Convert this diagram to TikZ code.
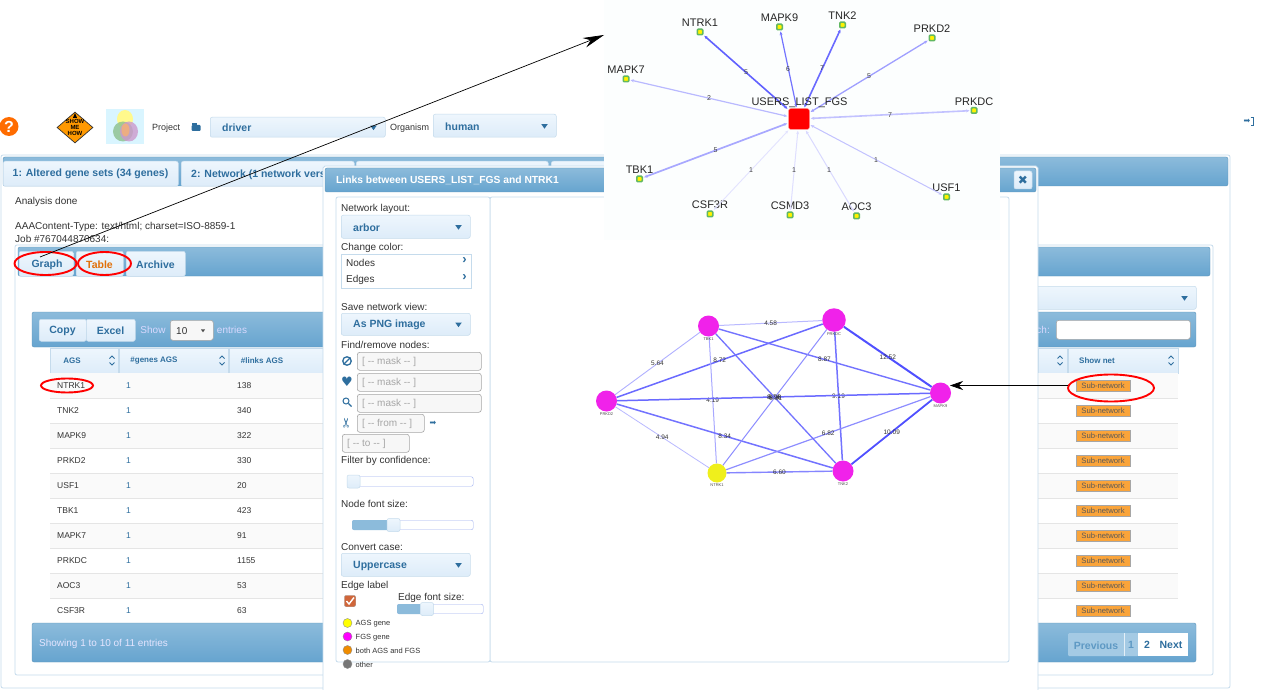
\documentclass[tikz,border=0pt]{standalone}
\usepackage{fontspec}
\setmainfont{Liberation Sans}
\newfontfamily\iconfont{DejaVu Sans}
\usetikzlibrary{arrows.meta,calc,positioning,matrix,shapes.geometric}
\definecolor{barTop}{HTML}{8CBBDB}
\definecolor{barBot}{HTML}{66A4CF}
\definecolor{widTop}{HTML}{EEF6FD}
\definecolor{widBot}{HTML}{DDECF9}
\definecolor{edgeBox}{HTML}{C5DBEC}
\definecolor{blueText}{HTML}{2E6E9E}
\definecolor{bodyText}{HTML}{333333}
\definecolor{orangeTab}{HTML}{E17009}
\definecolor{hotPink}{HTML}{F022EA}
\definecolor{netYellow}{HTML}{EFEF1C}
\definecolor{linkBlue}{HTML}{5050FF}
\definecolor{btnOrange}{HTML}{FAA43A}
\definecolor{overlayWhite}{HTML}{FCFEFE}
\definecolor{pageFill}{HTML}{A4CAE4}
\definecolor{pageText}{HTML}{5E99C4}
\definecolor{legYellow}{HTML}{FFFF00}
\definecolor{legPink}{HTML}{FF00FF}
\definecolor{legOrange}{HTML}{F08C00}
\definecolor{legGray}{HTML}{777777}
\definecolor{checkFill}{HTML}{D0663A}
\definecolor{geneGreen}{HTML}{62B862}
\newcommand{\fsz}[1]{\fontsize{#1}{#1}\selectfont}
% combo box: name, left, top, right, bottom, text
\newcommand{\combobox}[6]{
  \node[widget, minimum width=#4pt-#2pt, minimum height=#5pt-#3pt, anchor=north west] (#1) at (#2,#3) {};
  \node[bluebold, anchor=west] (#1-text) at ($(#1.west)+(12,0)$) {#6};
  \node[dropmark] (#1-mark) at ($(#1.east)+(-12,0)$) {};
}
\newcommand{\maskfield}[6]{
  \node[maskbox, minimum width=#4pt-#2pt, minimum height=#5pt-#3pt, anchor=north west] (#1) at (#2,#3) {};
  \node[anchor=west, inner sep=0, yshift=-.5pt, font=\fsz{10}, text=gray!70] (#1-text) at ($(#1.west)+(5,0)$) {#6};
}
\newcommand{\sortmark}[2]{
  \path[draw, blueText, line width=.8pt] (#1-2.5,#2-2) -- (#1,#2-4.5) -- (#1+2.5,#2-2);
  \path[draw, blueText, line width=.8pt] (#1-2.5,#2+2) -- (#1,#2+4.5) -- (#1+2.5,#2+2);
}
\begin{document}
\begin{tikzpicture}[
    x=1pt, y=-1pt,
    every node/.style={text=bodyText},
    panel/.style={draw=edgeBox, fill=white, rounded corners=2pt, line width=.8pt},
    bar/.style={draw=barBot!90!black, top color=barTop, bottom color=barBot, rounded corners=2pt, line width=.4pt},
    widget/.style={draw=edgeBox, top color=widTop, bottom color=widBot, rounded corners=2pt, inner sep=0, line width=.5pt},
    tabbox/.style={widget, anchor=north west, inner sep=0, minimum height=25pt},
    bluebold/.style={inner sep=0, yshift=-.8pt, font=\fsz{10.5}\bfseries, text=blueText},
    lbl/.style={anchor=west, inner sep=0, yshift=-.8pt, font=\fsz{10}, text=bodyText},
    dropmark/.style={isosceles triangle, shape border rotate=-90, isosceles triangle apex angle=70, fill=blueText, inner sep=0, minimum height=3.5pt, minimum width=6.5pt},
    maskbox/.style={draw=black!35, fill=white!97!black, rounded corners=2.5pt, inner sep=0, line width=.6pt},
    redring/.style={ellipse, draw=red, line width=1.9pt, inner sep=0},
    gene/.style={draw=geneGreen, fill=yellow, line width=1.5pt, rounded corners=1pt, inner sep=0, minimum size=5.5pt},
    genelbl/.style={inner sep=0, font=\fsz{11}, text=black!85},
    weight/.style={inner sep=0, font=\fsz{7}, text=black!75},
    netdot/.style={circle, inner sep=0, fill=hotPink},
    tinylbl/.style={inner sep=0, font=\fsz{4}, text=black!70},
    subbtn/.style={fill=btnOrange, draw=black!35, line width=.5pt, minimum width=54pt, minimum height=10.5pt, inner sep=0, font=\fsz{7.7}, text=black!65},
    dbtable/.style={
        matrix of nodes,
        row sep=0pt,
        column sep=0pt,
        inner sep=0pt,
        nodes={rectangle, font=\fsz{8.5}, text=bodyText, minimum height=25pt, text height=6pt, text depth=2pt, align=left, inner ysep=0},
        column 1/.style={nodes={text width=55pt, inner xsep=7pt}},
        column 2/.style={nodes={text width=97pt, inner xsep=7pt, text=blueText}},
        column 3/.style={nodes={text width=90pt, inner xsep=7pt}}}
]
\useasboundingbox (0,0) rectangle (1262,690);
\fill[white] (0,0) rectangle (1262,690);

%% top strip
\node[circle, fill=orange!85!red, inner sep=0, minimum size=19pt, text=white, font=\fsz{16}\bfseries] (helpmark) at (9,126.500) {?};
\node[diamond, draw=black!80, fill=orange!80!yellow, inner sep=0, minimum width=36pt, minimum height=31pt, line width=.7pt] (showsign) at (75,127.500) {};
\node[isosceles triangle, shape border rotate=90, fill=black, inner sep=0, minimum height=3pt, minimum width=4pt] (showtop) at (75,116.500) {};
\node[inner sep=0, font=\fsz{6}\bfseries, align=center, text=black] (showtext) at (75,127.500) {SHOW\\[-.3pt]ME\\[-.3pt]HOW};
\node[rectangle, fill=blue!25!cyan!15, inner sep=0, minimum width=38pt, minimum height=35pt] (vennback) at (125,126.500) {};
\node[ellipse, fill=yellow!45, inner sep=0, minimum width=16pt, minimum height=18pt] (vennA) at (125,119) {};
\node[ellipse, fill=green!45!black!45, opacity=.8, inner sep=0, minimum width=20pt, minimum height=20pt] (vennB) at (123,131.500) {};
\node[ellipse, fill=violet!40, opacity=.8, inner sep=0, minimum width=18pt, minimum height=20pt] (vennC) at (129,131.500) {};
\node[ellipse, fill=orange!60, opacity=.7, inner sep=0, minimum width=8pt, minimum height=13pt] (vennD) at (125.500,130) {};
\node[lbl, font=\fsz{9}] (projectlbl) at (152,127) {Project};
\node[inner sep=0, fill=blueText, minimum width=9pt, minimum height=6pt, rounded corners=1pt] (folderico) at (196,128) {};
\node[inner sep=0, fill=blueText, minimum width=5pt, minimum height=2pt, anchor=south west] (foldertab) at (folderico.north west) {};
\combobox{projectbox}{210}{117}{385}{137}{driver}
\node[lbl, font=\fsz{9}] (organismlbl) at (390,127.500) {Organism};
\combobox{organismbox}{433}{114}{556}{137}{human}
\node[inner sep=0, font=\iconfont\fsz{8}, text=blueText] (signinico) at (1247,121) {➡};
\coordinate (signa) at (1250.500,117);
\coordinate (signb) at (1253,117);
\coordinate (signc) at (1253,125);
\coordinate (signd) at (1250.500,125);
\path[draw=blueText, line width=.9pt] (signa) -- (signb) -- (signc) -- (signd);

%% main panel
\path[panel] (1,155) rectangle (1230,688);
\path[bar] (3,157) rectangle (1228,186);
\node[tabbox, minimum width=175pt] (tabone) at (3,161) {};
\node[bluebold] (tabonetext) at (90.500,173.500) {1: Altered gene sets (34 genes)};
\node[tabbox, minimum width=173pt] (tabtwo) at (181,161) {};
\node[bluebold, anchor=west] (tabtwotext) at (191,173.500) {2: Network (1 network vers};
\node[tabbox, minimum width=192pt] (tabthree) at (356,161) {};
\node[tabbox, minimum width=100pt] (tabfour) at (551,161) {};
\node[lbl] (statuslbl) at (15,201.500) {Analysis done};
\node[lbl] (typelbl) at (15,226.500) {AAAContent-Type: text/html; charset=ISO-8859-1};
\node[lbl] (joblbl) at (15,238.500) {Job \#767044870634:};

%% inner panel, tabs
\path[panel] (15,245) rectangle (1213,675);
\path[bar] (18,247) rectangle (1210,276);
\node[tabbox, minimum width=54pt] (tabgraph) at (19,251) {};
\node[bluebold] at (47,263.500) (graphtext) {Graph};
\node[tabbox, minimum width=47pt] (tabtable) at (76,251) {};
\node[bluebold, text=orangeTab] at (99.500,263.500) (tabletext) {Table};
\node[tabbox, minimum width=59pt] (tabarchive) at (126,251) {};
\node[bluebold] at (155.500,263.500) (archivetext) {Archive};
\combobox{viewbox}{420}{286}{1196}{309}{}

%% table
\path[bar] (32,312) rectangle (1196,347);
\node[widget, minimum width=47pt, minimum height=22pt, anchor=north west] (copybtn) at (39,319) {};
\node[bluebold] (copytext) at (62.500,330) {Copy};
\node[widget, minimum width=49pt, minimum height=22pt, anchor=north west] (excelbtn) at (86,319) {};
\node[bluebold] (exceltext) at (110.500,330) {Excel};
\node[inner sep=0, font=\fsz{10}, text=white!85!blue] (showlbl) at (153,329.500) {Show};
\node[maskbox, minimum width=43pt, minimum height=20pt, anchor=north west] (lenbox) at (170,320) {};
\node[lbl, font=\fsz{10}] (lentext) at (176,330) {10};
\node[dropmark, minimum height=2.500pt, minimum width=4pt, fill=black!70] (lenmark) at (203,330.500) {};
\node[inner sep=0, font=\fsz{10}, text=white!85!blue] (entrieslbl) at (232,329.500) {entries};
\node[inner sep=0, font=\fsz{10}, text=white!85!blue, anchor=east] (searchlbl) at (1050,329.500) {ch:};
\node[maskbox, fill=white, minimum width=134pt, minimum height=19pt, anchor=north west] (searchbox) at (1056,320) {};
\foreach \hname/\hleft/\hwide/\htext/\htx in {
    hags/50/68/AGS/72,
    hgenes/119/109/\#genes AGS/154,
    hlinks/229/120/\#links AGS/262,
    hlast/1038/29//1050,
    hshow/1068/110/Show net/1097}{
  \node[widget, rounded corners=0, minimum width=\hwide pt, minimum height=25pt, anchor=north west] (\hname) at (\hleft,348) {};
  \node[inner sep=0, yshift=-.5pt, font=\fsz{8}\bfseries, text=blueText] (\hname-text) at (\htx,360.500) {\htext};
}
\sortmark{112}{360.500}
\sortmark{222}{360.500}
\sortmark{1060}{360.500}
\sortmark{1171}{360.500}
\foreach \r in {0,2,4,6,8}{
  \fill[black!2] (50,373+25*\r) rectangle (1178,398+25*\r);
}
\foreach \r in {1,...,9}{
  \draw[black!10] (50,373+25*\r) -- (1178,373+25*\r);
}
\matrix (GENETABLE) [dbtable, anchor=north west, ampersand replacement=\&] at (50,374) {
 NTRK1 \& 1 \& 138 \\
 TNK2 \& 1 \& 340 \\
 MAPK9 \& 1 \& 322 \\
 PRKD2 \& 1 \& 330 \\
 USF1 \& 1 \& 20 \\
 TBK1 \& 1 \& 423 \\
 MAPK7 \& 1 \& 91 \\
 PRKDC \& 1 \& 1155 \\
 AOC3 \& 1 \& 53 \\
 CSF3R \& 1 \& 63 \\
};
\foreach \r in {0,...,9}{
  \node[subbtn] (subnet\r) at (1103,385.500+25*\r) {Sub-network};
}
\path[draw, black!70, semithick] (50,623) -- (1178,623);
\path[bar] (32,623) rectangle (1196,662);
\node[lbl, font=\fsz{10}, text=white!90!blue] (showinglbl) at (39,643.500) {Showing 1 to 10 of 11 entries};
\node[rectangle, rounded corners=1pt, fill=pageFill, anchor=north west, minimum width=70pt, minimum height=23pt, inner sep=0] (pagefaded) at (1068,633) {};
\node[rectangle, fill=white, anchor=north west, minimum width=50pt, minimum height=23pt, inner sep=0] (pagelive) at (1138,633) {};
\coordinate (pagesep) at (1124,633);
\coordinate (pagesepend) at (1124,656);
\path[draw=white!70!pageFill, line width=.6pt] (pagesep) -- (pagesepend);
\node[bluebold, text=pageText] (prevtext) at (1096,644.500) {Previous};
\node[bluebold, text=pageText] (onetext) at (1131,644.500) {1};
\node[bluebold] (twotext) at (1147,644.500) {2};
\node[bluebold] (nexttext) at (1171,644.500) {Next};

%% modal dialog
\path[draw=edgeBox, fill=white, line width=.8pt] (323,692) -- (323,168) -- ++(2,-2) -- (1036,166) -- ++(2,2) -- (1038,692);
\path[bar] (325,168) rectangle (1036,192);
\node[inner sep=0, yshift=-.8pt, font=\fsz{10.3}\bfseries, text=white, anchor=west] (modaltitle) at (336,179.500) {Links between USERS\_LIST\_FGS and NTRK1};
\node[widget, minimum size=18pt] (closebtn) at (1023,180) {};
\node[inner sep=0, font=\iconfont\fsz{12}, text=blueText] (closemark) at (1023,180) {✖};
\path[panel] (490,197) rectangle (1009,662);
\path[panel] (336,197) rectangle (490,662);
\node[lbl] (layoutlbl) at (341,208.500) {Network layout:};
\combobox{layoutbox}{341}{215}{470}{238}{arbor}
\node[lbl] (colorlbl) at (341,247.500) {Change color:};
\node[draw=edgeBox, fill=white, anchor=north west, inner sep=0, minimum width=130pt, minimum height=34pt, line width=.6pt] (colorbox) at (341,254) {};
\node[lbl] (nodeslbl) at (346,262.500) {Nodes};
\node[lbl] (edgeslbl) at (346,279) {Edges};
\node[inner sep=0, font=\fsz{13}\bfseries, text=blueText] (nodesmark) at (464.500,261) {›};
\node[inner sep=0, font=\fsz{13}\bfseries, text=blueText] (edgesmark) at (464.500,277.500) {›};
\node[lbl] (savelbl) at (341,306.500) {Save network view:};
\combobox{savebox}{341}{313}{470}{335}{As PNG image}
\node[lbl] (findlbl) at (341,344.500) {Find/remove nodes:};
\maskfield{maskone}{357}{352}{481}{370}{[ -{}- mask -{}- ]}
\maskfield{masktwo}{357}{373}{481}{391}{[ -{}- mask -{}- ]}
\maskfield{maskthree}{357}{394}{481}{412}{[ -{}- mask -{}- ]}
\maskfield{fromfield}{357}{414}{424}{432}{[ -{}- from -{}- ]}
\maskfield{tofield}{342}{434}{409}{452}{[ -{}- to -{}- ]}
\node[circle, draw=blueText, line width=1.3pt, minimum size=8.500pt, inner sep=0] (banico) at (347,361) {};
\path[draw=blueText, line width=1.3pt] (banico.south west) -- (banico.north east);
\node[inner sep=0, font=\iconfont\fsz{13}, text=blueText] (heartico) at (347,381.500) {♥};
\node[circle, draw=blueText, line width=1pt, minimum size=6pt, inner sep=0] (lensico) at (346,401) {};
\coordinate (lensend) at (351.500,406.500);
\path[draw=blueText, line width=1.4pt] (lensico.south east) -- (lensend);
\node[inner sep=0, font=\iconfont\fsz{13}, text=blueText, rotate=90] (cutico) at (347,423) {✂};
\node[inner sep=0, font=\iconfont\fsz{8}, text=blueText] (goico) at (433,423) {➡};
\node[lbl] (filterlbl) at (341,460.500) {Filter by confidence:};
\node[draw=edgeBox!80!blue, fill=white, rounded corners=2pt, inner sep=0, minimum width=126pt, minimum height=9.500pt, anchor=west] (slideone) at (347,481.500) {};
\node[widget, minimum size=13pt] (knobone) at (353.500,481.500) {};
\node[lbl] (nodefontlbl) at (341,503.500) {Node font size:};
\node[draw=edgeBox!80!blue, fill=white, rounded corners=2pt, inner sep=0, minimum width=121pt, minimum height=9.500pt, anchor=west] (slidetwo) at (352,525) {};
\fill[barTop, rounded corners=2pt] (352,520) rectangle (393,530);
\node[widget, minimum size=13pt] (knobtwo) at (393.500,525) {};
\node[lbl] (caselbl) at (341,546.500) {Convert case:};
\combobox{casebox}{341}{553}{470}{576}{Uppercase}
\node[lbl] (edgelabellbl) at (341,585.500) {Edge label};
\node[draw=black!30, fill=checkFill, rounded corners=1.500pt, minimum size=11.500pt, inner sep=0] (checkbox) at (350,601) {};
\coordinate (checkone) at (346.500,601);
\coordinate (checktwo) at (349,604);
\coordinate (checkthree) at (354,597.500);
\path[draw=white, line width=1.4pt] (checkone) -- (checktwo) -- (checkthree);
\node[lbl] (edgefontlbl) at (398,597.500) {Edge font size:};
\node[draw=edgeBox!80!blue, fill=white, rounded corners=2pt, inner sep=0, minimum width=86pt, minimum height=9.500pt, anchor=west] (slidethree) at (397,609) {};
\fill[barTop, rounded corners=2pt] (397,604) rectangle (427,614);
\node[widget, minimum size=13pt] (knobthree) at (427,609) {};
\foreach \lname/\lcol/\ly/\ltext in {
    ags/legYellow/623/AGS gene,
    fgs/legPink/636.500/FGS gene,
    both/legOrange/650/both AGS and FGS,
    other/legGray/664/other}{
  \node[circle, draw=black!45, line width=.4pt, fill=\lcol, minimum size=9pt, inner sep=0] (legend-\lname) at (347.500,\ly) {};
  \node[lbl, font=\fsz{7.5}] (legend-\lname-text) at (355.500,\ly) {\ltext};
}

%% subnetwork
\node[netdot, minimum size=21pt] (nodeTBK) at (708.500,326) {};
\node[netdot, minimum size=23.500pt] (nodePRKDC) at (834,320) {};
\node[netdot, minimum size=21pt] (nodeMAPK) at (940.500,393) {};
\node[netdot, minimum size=21pt] (nodePRKD) at (606.500,401) {};
\node[netdot, fill=netYellow, minimum size=19pt] (nodeNTRK) at (717,473) {};
\node[netdot, minimum size=21pt] (nodeTNK) at (843,471) {};
\foreach \aname/\bname/\wid/\col/\val in {
    nodeTBK/nodePRKDC/1/40/4.58,
    nodeTBK/nodePRKD/.9/45/5.64,
    nodePRKD/nodePRKDC/1.5/85/8.72,
    nodeTBK/nodeMAPK/1.4/80/8.87,
    nodePRKDC/nodeMAPK/2/100/12.52,
    nodeTBK/nodeNTRK/1/50/4.19,
    nodePRKDC/nodeTNK/1.5/80/9.19,
    nodePRKD/nodeNTRK/.8/40/4.94,
    nodePRKD/nodeTNK/1.5/80/8.34,
    nodeNTRK/nodeMAPK/1.2/65/6.82,
    nodeTNK/nodeMAPK/1.8/100/10.09,
    nodeNTRK/nodeTNK/1.4/70/6.60,
    nodePRKD/nodeMAPK/1.5/85/8.94,
    nodeTBK/nodeTNK/1.3/80/8.91,
    nodePRKDC/nodeNTRK/1/65/8.98}{
  \draw[linkBlue!\col, line width=\wid pt] (\aname) -- node[weight, font=\fsz{6.5}, text=black!80] {\val} (\bname);
}
\node[tinylbl, below=1pt of nodeTBK] (tagTBK) {TBK1};
\node[tinylbl, below=1pt of nodePRKDC] (tagPRKDC) {PRKDC};
\node[tinylbl, below=1pt of nodeMAPK] (tagMAPK) {MAPK9};
\node[tinylbl, below=1pt of nodePRKD] (tagPRKD) {PRKD2};
\node[tinylbl, below=1pt of nodeNTRK] (tagNTRK) {NTRK1};
\node[tinylbl, below=1pt of nodeTNK] (tagTNK) {TNK2};

%% gene star on top
\fill[overlayWhite] (604,0) rectangle (1000,240);
\node[fill=red, draw=red!40, rounded corners=2.500pt, minimum size=21pt, inner sep=0, line width=.5pt] (hubnode) at (799,119) {};
\foreach \gname/\gx/\gy/\lx/\ly/\wid/\col/\val/\vx/\vy in {
    NTRK1/700/32/700/23/1.6/90/5/746/72,
    MAPK9/779.500/27/779.500/18/1.2/80/6/788/69,
    TNK2/842.500/25/842.500/16/1.6/85/7/822/68,
    PRKD2/932/38/932/29/1.3/55/5/869/76,
    MAPK7/626/79/626/70/1.2/40/2/709/98,
    PRKDC/974/110.500/974/102/1.6/35/7/890/115,
    TBK1/639.500/179/639.500/170/1.7/50/5/715.500/150,
    CSF3R/710/214/710/205/.9/16/1/751/170,
    CSMD3/790/215/790/206/1/18/1/794/170,
    AOC3/856.500/216/856.500/207/1/22/1/829/170,
    USF1/946.500/197/946.500/188/1/35/1/876/160}{
  \node[gene] (gene\gname) at (\gx,\gy) {};
  \node[genelbl] (genelabel\gname) at (\lx,\ly) {\gname};
  \path[draw=linkBlue!\col, line width=\wid pt, {Stealth[length=3.500pt,width=3pt]}-{Stealth[length=3.500pt,width=3pt]}, shorten <=1pt, shorten >=1pt] (gene\gname) -- (hubnode);
  \node[weight] (weight\gname) at (\vx,\vy) {\val};
}
\node[genelbl] (hublabel) at (799.500,103) {USERS\_LIST\_FGS};

%% red rings and arrows
\node[redring, minimum width=62pt, minimum height=23pt] (ringgraph) at (45.500,263.500) {};
\node[redring, minimum width=53pt, minimum height=23pt] (ringtable) at (104.500,263.500) {};
\node[redring, minimum width=52pt, minimum height=14pt] (ringgene) at (67,385.500) {};
\node[redring, minimum width=86pt, minimum height=27pt] (ringsub) at (1111,388) {};
\coordinate (graphhit) at (40,257);
\coordinate (overlayhit) at (604,35);
\coordinate (subnethit) at (1068,385.500);
\coordinate (netdothit) at (950,385.500);
\draw[black, line width=.7pt, -{Stealth[length=21pt,width=10pt]}] (graphhit) -- (overlayhit);
\draw[black, line width=.7pt, -{Stealth[length=13pt,width=9pt]}] (subnethit) -- (netdothit);
\end{tikzpicture}
\end{document}
